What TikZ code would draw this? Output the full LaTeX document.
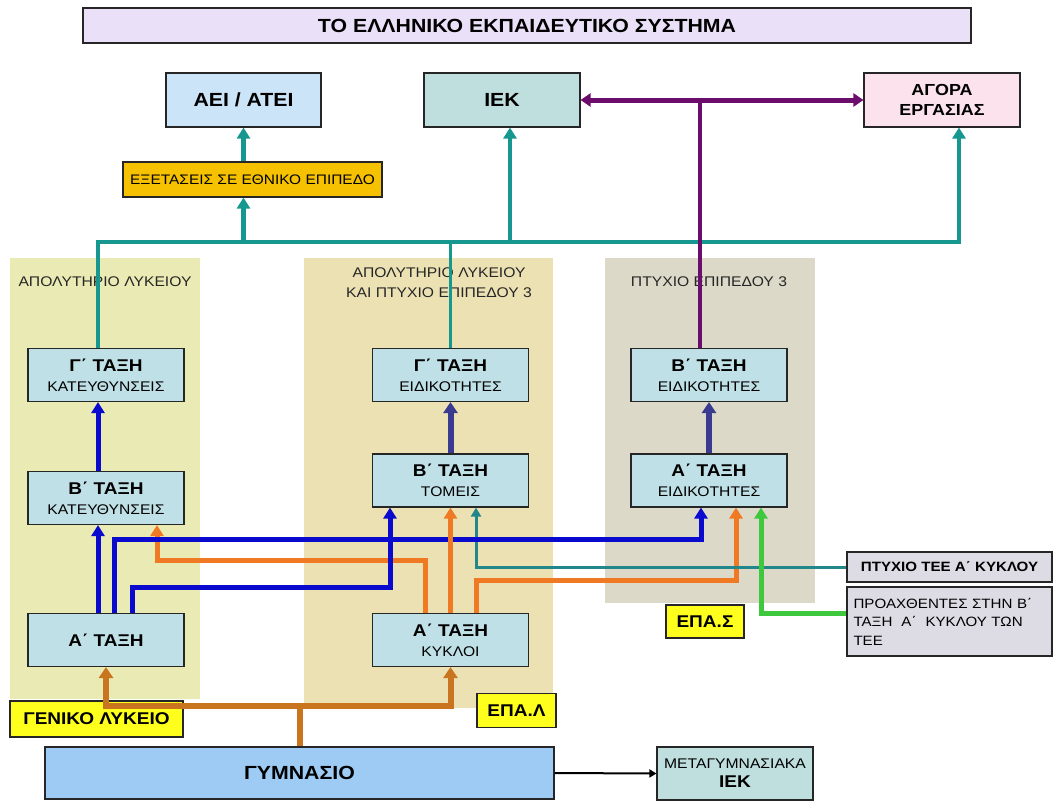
\documentclass[tikz,border=0pt]{standalone}
\usepackage{fontspec}
\setmainfont{Liberation Sans}[FakeStretch=1.12]
\usetikzlibrary{arrows.meta,calc}
\definecolor{titlecol}{HTML}{EAE0F7}
\definecolor{aeicol}{HTML}{CCE4F8}
\definecolor{iekcol}{HTML}{BFDFDF}
\definecolor{agoracol}{HTML}{FCE2EC}
\definecolor{examcol}{HTML}{F6C100}
\definecolor{gradecol}{HTML}{BFE0E6}
\definecolor{panelL}{HTML}{EAEAB4}
\definecolor{panelM}{HTML}{ECE1B3}
\definecolor{panelR}{HTML}{DCD9C8}
\definecolor{labcol}{HTML}{FFFF1E}
\definecolor{greycol}{HTML}{DDDBE4}
\definecolor{gymcol}{HTML}{9ECBF4}
\definecolor{tealc}{HTML}{16978F}
\definecolor{teal2}{HTML}{22878A}
\definecolor{purplec}{HTML}{6C0C6C}
\definecolor{bluec}{HTML}{0A0ACF}
\definecolor{slatec}{HTML}{3A3A90}
\definecolor{orangec}{HTML}{F07A24}
\definecolor{brownc}{HTML}{C9741F}
\definecolor{greenc}{HTML}{3DC83D}
\newcommand\mybig[1]{{\fontsize{17}{20}\selectfont\bfseries #1}}
\newcommand\mysmall[1]{{\fontsize{14}{20}\selectfont #1}}
\begin{document}
\begin{tikzpicture}[x=1pt,y=-1pt,
  box/.style={draw=black!85, line width=1.1pt, inner sep=0pt, align=center, minimum width=156pt, minimum height=53pt},
  grade/.style={box, fill=gradecol, font=\fontsize{14}{20}\selectfont},
  lab/.style={draw=black!85, line width=1.1pt, inner sep=0pt, fill=labcol, minimum height=34pt, font=\fontsize{17}{20}\selectfont\bfseries},
  panellab/.style={align=center, font=\fontsize{14}{19.5}\selectfont, text=black!85},
  tip/.style={-{Triangle[width=13pt,length=11pt]}},
  tealarr/.style={draw=tealc, line width=4.5pt, tip},
  bluearr/.style={draw=bluec, line width=5pt, tip},
  slatearr/.style={draw=slatec, line width=6pt, -{Triangle[width=14pt,length=11pt]}},
  orangearr/.style={draw=orangec, line width=5pt, tip},
  brownarr/.style={draw=brownc, line width=6pt, -{Triangle[width=14pt,length=11pt]}},
  greenarr/.style={draw=greenc, line width=5pt, tip},
  tee2arr/.style={draw=teal2, line width=3pt, -{Triangle[width=10pt,length=9pt]}}
]
\useasboundingbox (0,0) rectangle (1053,801);
% panels
\fill[panelL] (10,258) rectangle (200,699);
\fill[panelM] (304,258) rectangle (553,708);
\fill[panelR] (605,258) rectangle (815,603);
\node[panellab] (pl1) at (105,282) {ΑΠΟΛΥΤΗΡΙΟ ΛΥΚΕΙΟΥ};
\node[panellab] (pl2) at (439,282.5) {ΑΠΟΛΥΤΗΡΙΟ ΛΥΚΕΙΟΥ\\ΚΑΙ ΠΤΥΧΙΟ ΕΠΙΠΕΔΟΥ 3};
\node[panellab] (pl3) at (709,282) {ΠΤΥΧΙΟ ΕΠΙΠΕΔΟΥ 3};
% title and top
\node[box, fill=titlecol, minimum width=888pt, minimum height=35pt, font=\fontsize{19}{22}\selectfont\bfseries] (title) at (527,25.5) {ΤΟ ΕΛΛΗΝΙΚΟ ΕΚΠΑΙΔΕΥΤΙΚΟ ΣΥΣΤΗΜΑ};
\node[box, fill=aeicol, minimum width=155pt, minimum height=54pt, font=\fontsize{19}{22}\selectfont\bfseries] (aei) at (243.5,100) {ΑΕΙ / ΑΤΕΙ};
\node[box, fill=iekcol, minimum width=156pt, minimum height=54pt, font=\fontsize{19}{22}\selectfont\bfseries] (iek) at (502,100) {ΙΕΚ};
\node[box, fill=agoracol, minimum width=156pt, minimum height=54pt, font=\fontsize{16}{20}\selectfont\bfseries] (agora) at (942,100) {ΑΓΟΡΑ\\ΕΡΓΑΣΙΑΣ};
\node[box, fill=examcol, minimum width=259pt, minimum height=35pt, font=\fontsize{13.8}{16}\selectfont] (exams) at (252.5,179.5) {ΕΞΕΤΑΣΕΙΣ ΣΕ ΕΘΝΙΚΟ ΕΠΙΠΕΔΟ};
% grade boxes
\node[grade] (lC) at (106,375) {\mybig{Γ΄ ΤΑΞΗ}\\\mysmall{ΚΑΤΕΥΘΥΝΣΕΙΣ}};
\node[grade] (lB) at (106,498) {\mybig{Β΄ ΤΑΞΗ}\\\mysmall{ΚΑΤΕΥΘΥΝΣΕΙΣ}};
\node[grade] (lA) at (106,640) {\mybig{Α΄ ΤΑΞΗ}};
\node[grade] (mC) at (450.5,375) {\mybig{Γ΄ ΤΑΞΗ}\\\mysmall{ΕΙΔΙΚΟΤΗΤΕΣ}};
\node[grade] (mB) at (450.5,480.5) {\mybig{Β΄ ΤΑΞΗ}\\\mysmall{ΤΟΜΕΙΣ}};
\node[grade] (mA) at (450.5,640) {\mybig{Α΄ ΤΑΞΗ}\\\mysmall{ΚΥΚΛΟΙ}};
\node[grade] (rB) at (709,375) {\mybig{Β΄ ΤΑΞΗ}\\\mysmall{ΕΙΔΙΚΟΤΗΤΕΣ}};
\node[grade] (rA) at (709,480.5) {\mybig{Α΄ ΤΑΞΗ}\\\mysmall{ΕΙΔΙΚΟΤΗΤΕΣ}};
% labels
\node[lab, minimum width=173pt, minimum height=36pt] (gen) at (96.5,719) {ΓΕΝΙΚΟ ΛΥΚΕΙΟ};
\node[lab, minimum width=79pt] (epal) at (516.5,710.5) {ΕΠΑ.Λ};
\node[lab, minimum width=78pt, minimum height=33pt] (epas) at (705,621.5) {ΕΠΑ.Σ};
\node[box, fill=greycol, minimum width=205pt, minimum height=30pt, font=\fontsize{13.5}{16}\selectfont\bfseries] (tee) at (949.5,567) {ΠΤΥΧΙΟ ΤΕΕ Α΄ ΚΥΚΛΟΥ};
\node[box, fill=greycol, minimum width=205pt, minimum height=69pt, align=left, text width=192pt, font=\fontsize{13.5}{18.5}\selectfont] (proax) at (949.5,621.5) {ΠΡΟΑΧΘΕΝΤΕΣ ΣΤΗΝ Β΄\\ΤΑΞΗ\ \ Α΄\ \ ΚΥΚΛΟΥ ΤΩΝ\\ΤΕΕ};
\node[box, fill=gymcol, minimum width=509pt, minimum height=52pt, font=\fontsize{19}{22}\selectfont\bfseries] (gym) at (299.5,773) {ΓΥΜΝΑΣΙΟ};
\node[box, fill=iekcol, minimum width=156pt, minimum height=53pt, font=\fontsize{13.5}{19}\selectfont] (metag) at (735,773.5) {\mysmall{ΜΕΤΑΓΥΜΝΑΣΙΑΚΑ}\\\mybig{ΙΕΚ}};
% helper coordinates
\coordinate (bus) at (0,242);
\coordinate (yB1) at (0,539);
\coordinate (yO1) at (0,560);
\coordinate (yO2) at (0,580);
\coordinate (yB2) at (0,587);
\coordinate (yBr) at (0,706);
\coordinate (lCo) at ([xshift=-8pt]lC.north);
\coordinate (agi) at ([xshift=17pt]agora.south);
\coordinate (iei) at ([xshift=8pt]iek.south);
\coordinate (rBo) at ([xshift=-9pt]rB.north);
\coordinate (lAo0) at ([xshift=-8pt]lA.north);
\coordinate (lBi0) at ([xshift=-8pt]lB.south);
\coordinate (lBo0) at ([xshift=-8pt]lB.north);
\coordinate (lCi0) at ([xshift=-8pt]lC.south);
\coordinate (lAo1) at ([xshift=8pt]lA.north);
\coordinate (rAi1) at ([xshift=-8pt]rA.south);
\coordinate (lAo2) at ([xshift=26pt]lA.north);
\coordinate (mBi1) at ([xshift=-60.5pt]mB.south);
\coordinate (mAo1) at ([xshift=-25.5pt]mA.north);
\coordinate (lBi1) at ([xshift=51pt]lB.south);
\coordinate (mAo3) at ([xshift=25.5pt]mA.north);
\coordinate (rAi2) at ([xshift=27pt]rA.south);
\coordinate (mBi3) at ([xshift=25.5pt]mB.south);
\coordinate (rAi3) at ([xshift=52pt]rA.south);
\coordinate (pw) at ([yshift=8.5pt]proax.west);
% teal bus
\draw[tealarr] (lCo) |- (agi |- bus) -- (agi);
\draw[tealarr] (aei.south |- bus) -- (aei.south |- exams.south);
\draw[tealarr] (aei.south |- exams.north) -- (aei.south);
\draw[tealarr] (iei |- bus) -- (iei);
\draw[draw=tealc, line width=3.5pt] (mC.north |- bus) -- (mC.north);
% purple
\draw[draw=purplec, line width=3.5pt] (rBo |- iek.east) -- (rBo);
\draw[draw=purplec, line width=5pt, {Triangle[width=13pt,length=10pt]}-{Triangle[width=13pt,length=10pt]}] (iek.east) -- (agora.west);
% internal arrows
\draw[bluearr] (lBo0) -- (lCi0);
\draw[bluearr] (lAo0) -- (lBi0);
\draw[slatearr] (mB.north) -- (mC.south);
\draw[slatearr] (rA.north) -- (rB.south);
\draw[orangearr] (mAo1) -- (mAo1 |- yO1) -| (lBi1);
\draw[orangearr] (mAo3) -- (mAo3 |- yO2) -| (rAi2);
\draw[tee2arr] (tee.west) -| (mBi3);
\draw[bluearr] (lAo1) -- (lAo1 |- yB1) -| (rAi1);
\draw[bluearr] (lAo2) -- (lAo2 |- yB2) -| (mBi1);
\draw[orangearr] (mA.north) -- (mB.south);
\draw[greenarr] (pw) -| (rAi3);
% brown
\draw[brownarr] (gym.north) -- (gym.north |- yBr) -| (lA.south);
\draw[brownarr] (gym.north |- yBr) -| (mA.south);
% black
\draw[line width=2pt, -{Triangle[width=8pt,length=7pt]}] (gym.east) -- (metag.west);
\end{tikzpicture}
\end{document}
